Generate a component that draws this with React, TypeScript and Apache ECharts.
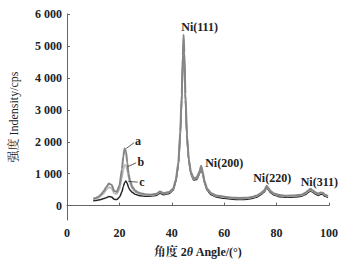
import React, { useEffect, useRef } from "react";
import * as echarts from "echarts";

const angles = [10, 11, 12, 13, 14, 15, 16, 17, 18, 19, 20, 21, 21.5, 22, 22.5, 23, 23.5, 24, 25, 26, 27, 28, 30, 32, 34, 35.5, 37, 39, 40.5, 41.5, 42.5, 43.2, 43.8, 44.2, 44.5, 44.8, 45.2, 45.8, 46.5, 47.3, 48.3, 49.5, 50.5, 51.2, 51.8, 52.5, 53.5, 55, 57, 60, 63, 66, 69, 71, 72.5, 74, 75.3, 76.2, 76.8, 77.8, 79, 81, 84, 87, 89.5, 91, 92.2, 92.9, 93.6, 95, 95.9, 96.8, 97.6, 98.5, 99.6];

const seriesA = [220, 240, 280, 350, 450, 580, 690, 650, 460, 430, 620, 1150, 1550, 1790, 1700, 1350, 1000, 800, 580, 470, 420, 390, 350, 340, 370, 440, 390, 430, 530, 800, 1350, 2300, 3500, 4700, 5350, 4800, 3500, 2200, 1450, 1050, 860, 880, 1050, 1250, 1060, 760, 530, 390, 320, 280, 250, 240, 250, 280, 320, 390, 480, 620, 560, 450, 380, 330, 310, 320, 340, 400, 480, 530, 480, 410, 370, 410, 400, 340, 300];

const seriesB = [190, 210, 240, 300, 380, 490, 580, 540, 380, 360, 500, 880, 1120, 1280, 1260, 1080, 870, 700, 520, 430, 390, 360, 330, 320, 350, 420, 370, 410, 510, 770, 1300, 2200, 3400, 4550, 5200, 4650, 3400, 2150, 1420, 1020, 830, 850, 1010, 1200, 1020, 730, 510, 370, 300, 260, 230, 220, 230, 260, 300, 370, 460, 590, 530, 430, 360, 310, 290, 300, 320, 380, 450, 500, 455, 390, 350, 390, 380, 320, 280];

const seriesC = [150, 160, 175, 195, 220, 250, 285, 270, 200, 190, 260, 440, 600, 720, 770, 690, 570, 490, 410, 360, 330, 310, 290, 290, 320, 390, 340, 380, 480, 730, 1250, 2100, 3300, 4400, 5050, 4500, 3300, 2080, 1380, 990, 800, 820, 980, 1150, 990, 700, 480, 340, 270, 230, 200, 190, 200, 230, 270, 340, 430, 560, 500, 400, 330, 280, 260, 270, 290, 350, 420, 470, 425, 360, 320, 360, 350, 290, 250];

const yTicks = [0, 1000, 2000, 3000, 4000, 5000, 6000];

const annoNames = ["Ni(111)", "Ni(200)", "Ni(220)", "Ni(311)", "a", "b", "c"];
const annoX = [50.6, 60, 78.3, 96.3, 27.1, 28.2, 28.6];
const annoY = [5600, 1330, 880, 725, 2020, 1364, 737];

const leaderFrom = [[22.6, 1790], [23.1, 1220], [23.4, 760]];
const leaderTo = [[25.6, 1970], [26.4, 1340], [27.0, 735]];

const FONT = '"Liberation Serif", "Times New Roman", "Noto Serif CJK SC", "Noto Sans CJK SC", serif';

function fmtY(v: number): string {
  if (v === 0) return "0";
  return `${Math.floor(v / 1000)} 000`;
}

export default function App() {
  const ref = useRef<HTMLDivElement>(null);
  useEffect(() => {
    if (!ref.current) return;
    const chart = echarts.init(ref.current, undefined, { renderer: "svg" });
    const mk = (ys: number[]) => angles.map((x, i) => [x, ys[i]]);
    const lineBase = {
      type: "line",
      showSymbol: false,
      symbol: "none",
      smooth: 0.2,
      smoothMonotone: "x",
    };
    chart.setOption({
      animation: false,
      backgroundColor: "#ffffff",
      grid: { left: 62, right: 24, top: 14, bottom: 43 },
      xAxis: {
        type: "value",
        min: 0,
        max: 100,
        interval: 20,
        splitLine: { show: false },
        axisLine: { lineStyle: { color: "#666", width: 1 } },
        axisTick: { inside: true, length: 3, lineStyle: { color: "#666" } },
        axisLabel: { fontFamily: FONT, fontSize: 12, fontWeight: "bold", color: "#222", margin: 7 },
        name: "角度 2{i|θ} Angle/(°)",
        nameLocation: "middle",
        nameGap: 26,
        nameTextStyle: {
          fontFamily: FONT,
          fontSize: 12,
          fontWeight: "bold",
          color: "#222",
          rich: {
            i: { fontFamily: FONT, fontSize: 12, fontWeight: "bold", fontStyle: "italic", color: "#222" },
          },
        },
      },
      yAxis: {
        type: "value",
        min: -450,
        max: 6000,
        splitLine: { show: false },
        axisLine: { show: true, lineStyle: { color: "#666", width: 1 } },
        axisTick: { show: true, inside: true, length: 3, customValues: yTicks, lineStyle: { color: "#666" } },
        axisLabel: {
          customValues: yTicks,
          formatter: fmtY,
          fontFamily: FONT,
          fontSize: 12,
          fontWeight: "bold",
          color: "#222",
          margin: 5,
        },
        name: "强度 Indensity/cps",
        nameLocation: "middle",
        nameRotate: 90,
        nameGap: 47,
        nameTextStyle: { fontFamily: FONT, fontSize: 12, color: "#222" },
      },
      series: [
        {
          ...lineBase,
          name: "c",
          data: mk(seriesC),
          lineStyle: { color: "#262626", width: 1.5 },
          z: 2,
        },
        {
          ...lineBase,
          name: "b",
          data: mk(seriesB),
          lineStyle: { color: "#b8b8b8", width: 1.6 },
          z: 3,
          markLine: {
            silent: true,
            symbol: "none",
            label: { show: false },
            lineStyle: { color: "#333", width: 0.8, type: "solid" },
            data: leaderFrom.map((f, i) => [{ coord: f }, { coord: leaderTo[i] }]),
          },
        },
        {
          ...lineBase,
          name: "a",
          data: mk(seriesA),
          lineStyle: { color: "#858585", width: 2 },
          z: 4,
          markPoint: {
            silent: true,
            symbol: "circle",
            symbolSize: 0,
            itemStyle: { color: "transparent" },
            label: {
              show: true,
              position: "inside",
              formatter: (p: any) => p.name,
              fontFamily: FONT,
              fontSize: 12,
              fontWeight: "bold",
              color: "#222",
            },
            data: annoNames.map((n, i) => ({ name: n, coord: [annoX[i], annoY[i]] })),
          },
        },
      ],
    });
    return () => chart.dispose();
  }, []);
  return (
    <div
      ref={ref}
      style={{ position: "absolute", left: 0, top: 0, width: 353, height: 263 }}
    />
  );
}
